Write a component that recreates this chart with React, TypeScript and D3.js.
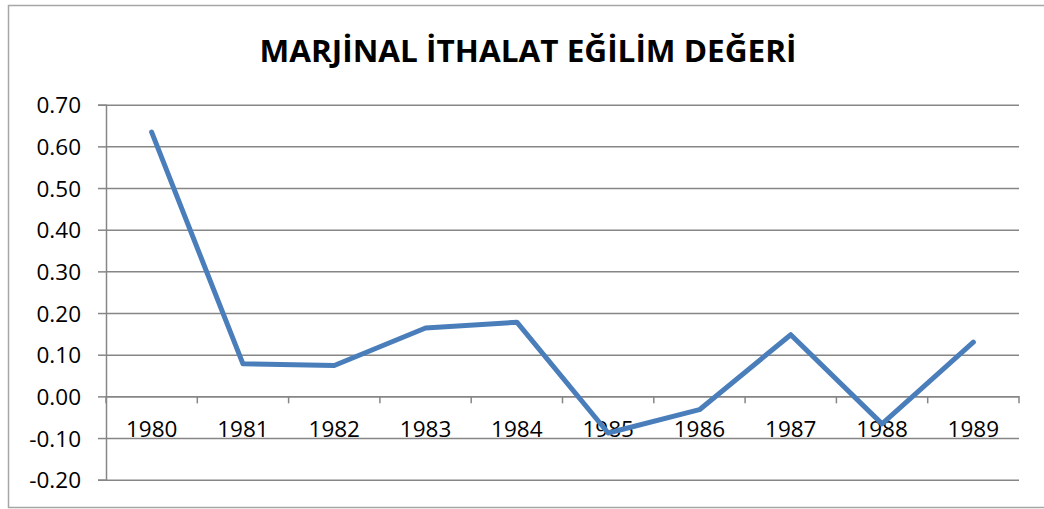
import React, { useEffect, useRef } from "react"
import * as d3 from "d3"

const years = ["1980", "1981", "1982", "1983", "1984", "1985", "1986", "1987", "1988", "1989"]
const values = [0.634, 0.078, 0.074, 0.164, 0.178, -0.088, -0.032, 0.148, -0.066, 0.13]
const yTicks = [-0.2, -0.1, 0, 0.1, 0.2, 0.3, 0.4, 0.5, 0.6, 0.7]
const title = "MARJİNAL İTHALAT EĞİLİM DEĞERİ"

const width = 1044
const height = 509

export default function App() {
  const ref = useRef(null)

  useEffect(() => {
    const svg = d3.select(ref.current)
    svg.selectAll("*").remove()

    const marginLeft = 106
    const marginRight = 25
    const top = 104.7
    const bottom = 479.7

    const x = d3.scaleBand().domain(years).range([marginLeft, width - marginRight])
    const y = d3.scaleLinear().domain([-0.2, 0.7]).range([bottom, top])
    const fmt = d3.formatLocale({ decimal: ".", thousands: ",", grouping: [3], currency: ["", ""], minus: "-" }).format(".2f")

    // chart frame
    svg.append("rect")
      .attr("x", 8.5)
      .attr("y", 5.5)
      .attr("width", 1050)
      .attr("height", 502)
      .attr("fill", "#fff")
      .attr("stroke", "#a6a6a6")
      .attr("stroke-width", 1.5)

    svg.append("text")
      .attr("x", 528)
      .attr("y", 62)
      .attr("text-anchor", "middle")
      .attr("font-family", "Open Sans")
      .attr("font-weight", "bold")
      .attr("font-size", 31)
      .attr("textLength", 537)
      .attr("lengthAdjust", "spacingAndGlyphs")
      .attr("fill", "#000")
      .text(title)

    // value axis with gridlines
    const yAxis = d3.axisLeft(y)
      .tickValues(yTicks)
      .tickFormat(fmt)
      .tickSize(8)
      .tickPadding(17)

    svg.append("g")
      .attr("transform", `translate(${marginLeft},0)`)
      .call(yAxis)
      .call(g => g.select(".domain").attr("stroke", "#868686").attr("stroke-width", 1.5))
      .call(g => g.selectAll(".tick line").attr("stroke", "#868686").attr("stroke-width", 1.5))
      .call(g => g.selectAll(".tick").append("line")
        .attr("x2", width - marginRight - marginLeft)
        .attr("stroke", "#868686")
        .attr("stroke-width", 1.5))
      .call(g => g.selectAll(".tick text")
        .attr("font-family", "Open Sans")
        .attr("font-size", 22.5)
        .attr("fill", "#000")
        .attr("dy", "0.36em"))

    // category axis at zero
    const xAxis = d3.axisBottom(x).tickSize(0)
    svg.append("g")
      .attr("transform", `translate(0,${y(0)})`)
      .call(xAxis)
      .call(g => g.select(".domain").attr("stroke", "#868686").attr("stroke-width", 1.5))
      .call(g => g.selectAll(".tick text")
        .attr("font-family", "Open Sans")
        .attr("font-size", 22.5)
        .attr("fill", "#000")
        .attr("y", 41)
        .attr("dy", 0))

    const edges = years.map(d => x(d)).concat([width - marginRight])
    svg.append("g")
      .selectAll("line")
      .data(edges)
      .join("line")
      .attr("x1", d => d)
      .attr("x2", d => d)
      .attr("y1", y(0))
      .attr("y2", y(0) + 7)
      .attr("stroke", "#868686")
      .attr("stroke-width", 1.5)

    const line = d3.line()
      .x((d, i) => x(years[i]) + x.bandwidth() / 2)
      .y(d => y(d))

    svg.append("path")
      .datum(values)
      .attr("d", line)
      .attr("fill", "none")
      .attr("stroke", "#4a7ebb")
      .attr("stroke-width", 5)
      .attr("stroke-linejoin", "round")
      .attr("stroke-linecap", "round")
  }, [])

  return (
    <svg ref={ref} width={width} height={height}
      style={{ position: "absolute", left: 0, top: 0, background: "#fff" }} />
  )
}
